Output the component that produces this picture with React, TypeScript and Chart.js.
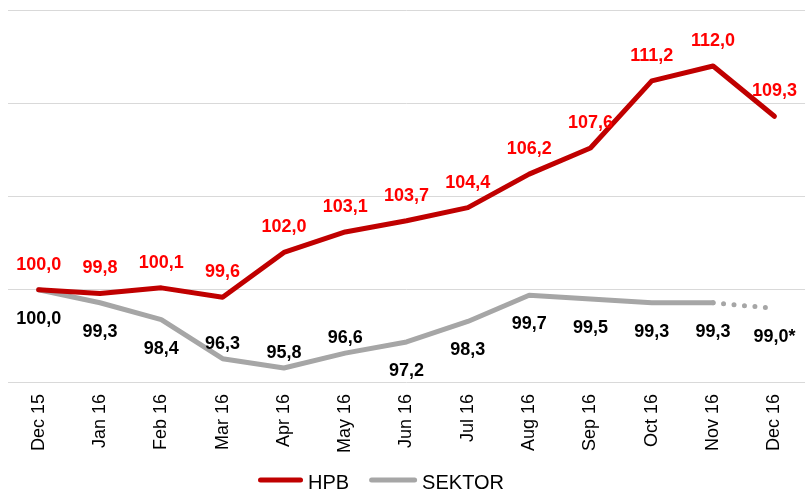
import React, { useEffect, useRef } from 'react';
import { Chart, registerables } from 'chart.js';

Chart.register(...registerables);

const categories = ['Dec 15', 'Jan 16', 'Feb 16', 'Mar 16', 'Apr 16', 'May 16', 'Jun 16', 'Jul 16', 'Aug 16', 'Sep 16', 'Oct 16', 'Nov 16', 'Dec 16'];
const hpbValues = [100.0, 99.8, 100.1, 99.6, 102.0, 103.1, 103.7, 104.4, 106.2, 107.6, 111.2, 112.0, 109.3];
const sektorValues = [100.0, 99.3, 98.4, 96.3, 95.8, 96.6, 97.2, 98.3, 99.7, 99.5, 99.3, 99.3, 99.0];
const sektorEstimatedIndex = 12; // last value is an estimate (drawn dotted, marked with *)
const sektorLabelAbove = [false, false, false, true, true, true, false, false, false, false, false, false, false];
const yMin = 95;
const yMax = 115;
const yStep = 5;

const FONT = 'Arial, "Liberation Sans", sans-serif';
const HPB_COLOR = '#C00000';
const SEKTOR_COLOR = '#A6A6A6';

const fmt = (v: number) => v.toFixed(1).replace('.', ',');

const valueLabelPlugin = {
  id: 'valueLabels',
  afterDatasetsDraw(chart: any) {
    const ctx = chart.ctx;
    ctx.save();
    ctx.font = `bold 18px ${FONT}`;
    ctx.textAlign = 'center';
    ctx.textBaseline = 'middle';
    chart.data.datasets.forEach((ds: any, di: number) => {
      const meta = chart.getDatasetMeta(di);
      meta.data.forEach((pt: any, i: number) => {
        const v = ds.data[i] as number;
        let text = fmt(v);
        if (di === 1 && i === sektorEstimatedIndex) text += '*';
        const dy = di === 0 ? -25 : sektorLabelAbove[i] ? -15 : 29;
        ctx.fillStyle = di === 0 ? '#FF0000' : '#000000';
        ctx.fillText(text, pt.x, pt.y + dy);
      });
    });
    ctx.restore();
  },
};

const customLegendPlugin = {
  id: 'customLegend',
  afterDraw(chart: any) {
    const ctx = chart.ctx;
    ctx.save();
    ctx.font = `20px ${FONT}`;
    ctx.textBaseline = 'alphabetic';
    ctx.textAlign = 'left';
    const lineY = chart.height - 9;
    const textY = chart.height;
    let x = chart.width / 2 - 149.5;
    chart.data.datasets.forEach((ds: any, i: number) => {
      const lineLen = i === 0 ? 45 : 48;
      ctx.strokeStyle = ds.borderColor;
      ctx.lineWidth = 5;
      ctx.lineCap = 'round';
      ctx.beginPath();
      ctx.moveTo(x + 2.5, lineY);
      ctx.lineTo(x + lineLen - 2.5, lineY);
      ctx.stroke();
      x += lineLen + 5;
      ctx.fillStyle = '#000';
      ctx.fillText(ds.label, x, textY);
      x += ctx.measureText(ds.label).width + 20;
    });
    ctx.restore();
  },
};

export default function App() {
  const ref = useRef<HTMLCanvasElement | null>(null);

  useEffect(() => {
    if (!ref.current) return;
    const chart = new Chart(ref.current, {
      type: 'line',
      data: {
        labels: categories,
        datasets: [
          {
            label: 'HPB',
            data: hpbValues,
            borderColor: HPB_COLOR,
            backgroundColor: HPB_COLOR,
            borderWidth: 5,
            pointRadius: 0,
            tension: 0,
            borderCapStyle: 'round',
            borderJoinStyle: 'round',
          },
          {
            label: 'SEKTOR',
            data: sektorValues,
            borderColor: SEKTOR_COLOR,
            backgroundColor: SEKTOR_COLOR,
            borderWidth: 5,
            pointRadius: 0,
            tension: 0,
            borderCapStyle: 'round',
            borderJoinStyle: 'round',
            segment: {
              borderDash: (c: any) => (c.p1DataIndex === sektorEstimatedIndex ? [0, 10.5] : undefined),
            },
          },
        ],
      },
      options: {
        responsive: false,
        animation: false,
        layout: { padding: { top: 2, left: 0, right: 0, bottom: 25 } },
        scales: {
          x: {
            offset: true,
            grid: { display: false, drawTicks: false },
            border: { display: false },
            ticks: {
              autoSkip: false,
              maxRotation: 90,
              minRotation: 90,
              padding: 11,
              color: '#000',
              font: { family: FONT, size: 18 },
            },
          },
          y: {
            min: yMin,
            max: yMax,
            ticks: { display: false, stepSize: yStep },
            grid: { color: '#D9D9D9', lineWidth: 1, drawTicks: false },
            border: { display: false },
          },
        },
        plugins: {
          tooltip: { enabled: false },
          legend: { display: false },
        },
      },
      plugins: [valueLabelPlugin, customLegendPlugin],
    } as any);
    return () => chart.destroy();
  }, []);

  return (
    <div style={{ position: 'fixed', left: 8, top: 8 }}>
      <canvas ref={ref} width={799} height={481} style={{ display: 'block', width: 799, height: 481 }} />
    </div>
  );
}
